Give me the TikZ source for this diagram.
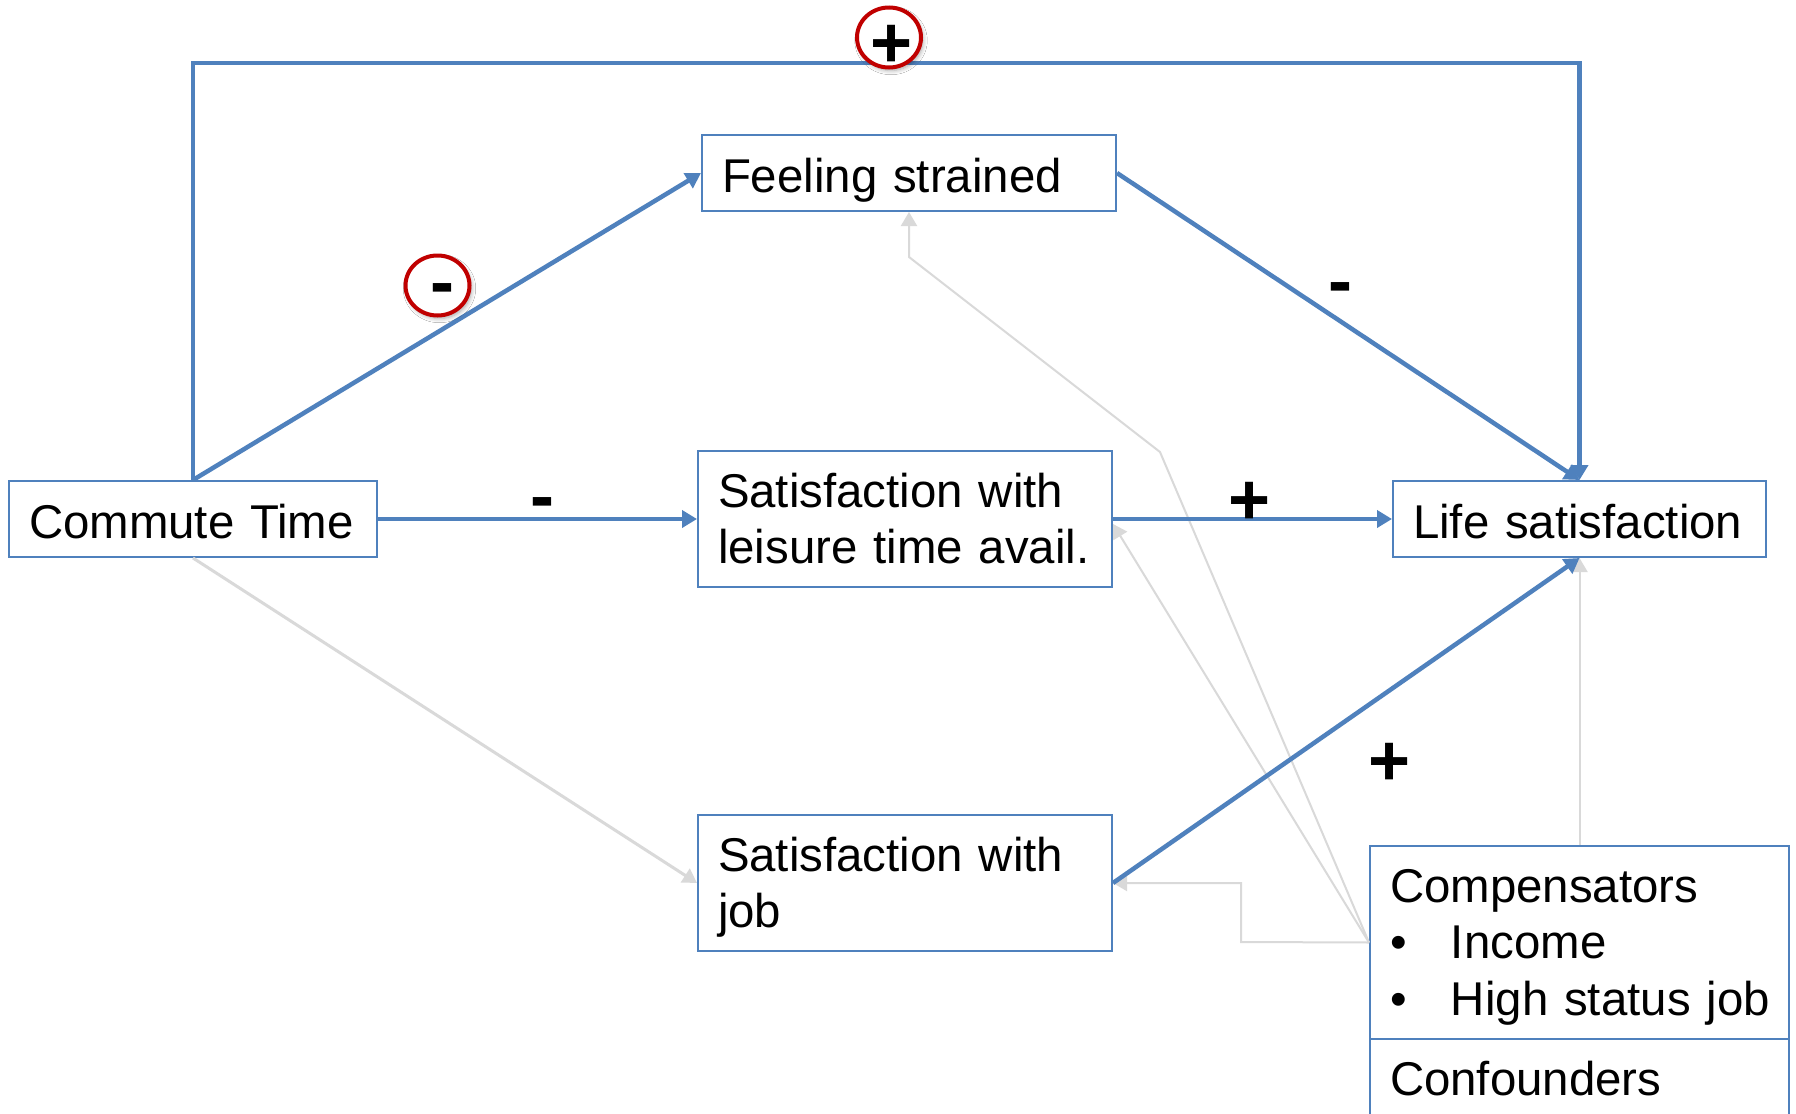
\documentclass[tikz,border=0pt]{standalone}
\usepackage{fontspec}
\setmainfont{Liberation Sans}
\usetikzlibrary{arrows.meta,shapes.geometric,shadows.blur}
\definecolor{pblue}{HTML}{4F81BD}
\definecolor{lgray}{HTML}{D9D9D9}
\definecolor{dred}{HTML}{C00000}
\tikzset{
 box/.style={draw=pblue, line width=1pt, fill=white, rectangle, inner xsep=10pt, inner ysep=0pt, align=left, font=\fontsize{23.7}{28.25}\selectfont, text height=19pt},
 onebox/.style={box, minimum height=38pt, text depth=0pt},
 twobox/.style={box, minimum height=68pt, text depth=31pt},
 listbox/.style={box, minimum height=96.5pt, text depth=59.5pt},
 link/.style={draw=pblue, line width=2.25pt, -{Triangle[length=7.5pt,width=8.5pt]}},
 faint/.style={draw=lgray, line width=1pt, -{Triangle[length=7pt,width=8pt]}},
 sign/.style={font=\fontsize{36}{36}\selectfont\bfseries, inner sep=0pt, anchor=base},
 ring/.style={ellipse, draw=dred, line width=2pt, fill=white, minimum width=32pt, minimum height=30pt, inner sep=0pt, blur shadow={shadow xshift=1pt, shadow yshift=-1.5pt, shadow blur steps=6, shadow opacity=35}}
}
\begin{document}
\begin{tikzpicture}[x=0.5pt,y=-0.5pt]
\useasboundingbox (0,0) rectangle (1796,1114);
\clip (0,0) rectangle (1796,1114);
\fill[white] (0,0) rectangle (1796,1114);

% nodes
\node[onebox, text width=164pt] (commute) at (193,519) {Commute Time};
\node[onebox, text width=187pt] (feeling) at (909,173) {Feeling strained};
\node[twobox, text width=187pt] (leisure) at (905,519) {\mbox{Satisfaction with}\\\mbox{leisure time avail.}};
\node[onebox, text width=166.5pt] (life) at (1579.5,519) {Life satisfaction};
\node[twobox, text width=187pt] (job) at (905,883) {\mbox{Satisfaction with}\\job};
\node[listbox, text width=189.5pt] (comp) at (1579.5,942.5) {Compensators\\\mbox{\makebox[30.5pt][l]{•}Income}\\\mbox{\makebox[30.5pt][l]{•}High status job}};
\node[listbox, text width=189.5pt] (conf) at (1579.5,1135.5) {Confounders};

% helper coordinates
\coordinate (topline) at (0,63);
\coordinate (bendA) at (1160,452);
\coordinate (bendB) at (909,257);
\coordinate (bendC) at (1241,942);

% faint (grey) connectors
\draw[faint, line width=1.5pt] (commute.south) -- (job.west);
\draw[faint] (comp.west) -- (bendC) -- (bendC |- job.east) -- (job.east);
\draw[faint] (comp.west) -- ([yshift=-2.5pt]leisure.east);
\draw[faint] (comp.west) -- (bendA) -- (bendB) -- (feeling.south);
\draw[faint] (comp.north) -- (life.south);

% main (blue) connectors
\draw[link] (commute.north) -- (feeling.west);
\draw[link] (commute.north) -- (commute.north |- topline) -- (life.north |- topline) -- (life.north);
\draw[link] (feeling.east) -- (life.north);
\draw[link] (commute.east) -- (leisure.west);
\draw[link] (leisure.east) -- (life.west);
\draw[link] (job.east) -- (life.south);

% rings
\node[ring] (ringplus) at (889,37.5) {};
\node[ring] (ringminus) at (437.5,285.5) {};

% signs
\node[sign] (splus) at (892,67) {+};
\node[sign] (sminus) at (442,306) {-};
\node[sign] (sleisure) at (542,520) {-};
\node[sign] (slife) at (1250,524) {+};
\node[sign] (sfeel) at (1340,305) {-};
\node[sign] (sjob) at (1390,785) {+};
\end{tikzpicture}
\end{document}
